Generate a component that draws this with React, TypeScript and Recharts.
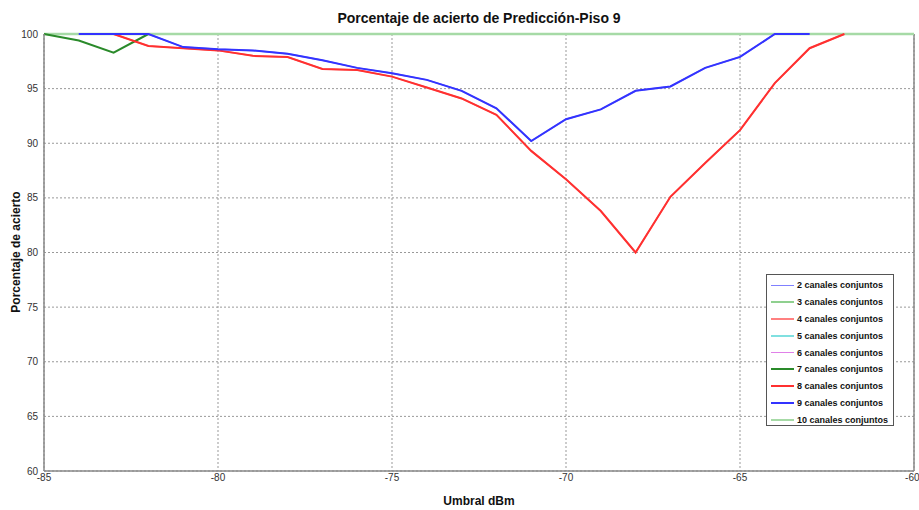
import {
  CartesianGrid,
  Line,
  LineChart,
  ReferenceLine,
  XAxis,
  YAxis,
} from "recharts";

const umbral = [
  -85, -84, -83, -82, -81, -80, -79, -78, -77, -76, -75, -74, -73, -72, -71,
  -70, -69, -68, -67, -66, -65, -64, -63, -62, -61, -60,
];

const xTicks = [-85, -80, -75, -70, -65, -60];
const yTicks = [60, 65, 70, 75, 80, 85, 90, 95, 100];

const canales2 = [
  null, 100, 100, 100, 98.8, 98.6, 98.5, 98.2, 97.6, 96.9, 96.4, 95.8, 94.8,
  93.2, 90.2, 92.2, 93.1, 94.8, 95.2, 96.9, 97.9, 100, 100, null, null, null,
];
const canales3 = umbral.map(() => 100);
const canales4 = [
  null, null, 100, 98.9, 98.7, 98.5, 98.0, 97.9, 96.8, 96.7, 96.1, 95.1, 94.1,
  92.6, 89.3, 86.7, 83.8, 80.0, 85.1, 88.2, 91.2, 95.5, 98.7, 100, null, null,
];
const canales5 = umbral.map(() => 100);
const canales6 = umbral.map(() => 100);
const canales7 = [
  100, 99.4, 98.3, 100, null, null, null, null, null, null, null, null, null,
  null, null, null, null, null, null, null, null, null, null, null, null, null,
];
const canales8 = [
  null, null, 100, 98.9, 98.7, 98.5, 98.0, 97.9, 96.8, 96.7, 96.1, 95.1, 94.1,
  92.6, 89.3, 86.7, 83.8, 80.0, 85.1, 88.2, 91.2, 95.5, 98.7, 100, null, null,
];
const canales9 = [
  null, 100, 100, 100, 98.8, 98.6, 98.5, 98.2, 97.6, 96.9, 96.4, 95.8, 94.8,
  93.2, 90.2, 92.2, 93.1, 94.8, 95.2, 96.9, 97.9, 100, 100, null, null, null,
];
const canales10 = umbral.map(() => 100);

const series = [
  { key: "c2", name: "2 canales conjuntos", values: canales2, color: "#8080ff", width: 1.5 },
  { key: "c3", name: "3 canales conjuntos", values: canales3, color: "#8fd08f", width: 1.5 },
  { key: "c4", name: "4 canales conjuntos", values: canales4, color: "#ff8080", width: 1.5 },
  { key: "c5", name: "5 canales conjuntos", values: canales5, color: "#80e0e0", width: 1.5 },
  { key: "c6", name: "6 canales conjuntos", values: canales6, color: "#e080e8", width: 1.5 },
  { key: "c7", name: "7 canales conjuntos", values: canales7, color: "#2a8a2a", width: 2 },
  { key: "c8", name: "8 canales conjuntos", values: canales8, color: "#ff3030", width: 2 },
  { key: "c9", name: "9 canales conjuntos", values: canales9, color: "#3333ff", width: 2 },
  { key: "c10", name: "10 canales conjuntos", values: canales10, color: "#a6daa6", width: 2.5 },
];

// flat lines at 100 go underneath so the coloured curves stay visible
const drawOrder = ["c3", "c5", "c6", "c10", "c2", "c4", "c7", "c8", "c9"];

const chartData = umbral.map((x, i) => {
  const row: Record<string, number | null> = { x };
  series.forEach((s) => {
    row[s.key] = s.values[i];
  });
  return row;
});

const font = "'Liberation Sans', Arial, sans-serif";

function LegendBox() {
  return (
    <div
      style={{
        position: "absolute",
        left: 766,
        top: 274,
        width: 128,
        height: 152,
        border: "1px solid #555",
        background: "#fff",
        fontFamily: font,
        fontSize: 9,
        fontWeight: 700,
        color: "#111",
        boxSizing: "border-box",
        paddingTop: 2,
      }}
    >
      {series.map((s) => (
        <div
          key={s.key}
          style={{ display: "flex", alignItems: "center", height: 16.8 }}
        >
          <div
            style={{
              marginLeft: 4,
              width: 23,
              height: s.width >= 2 ? 2 : 1.5,
              background: s.color,
              marginRight: 3,
            }}
          />
          <span>{s.name}</span>
        </div>
      ))}
    </div>
  );
}

export default function App() {
  const ordered = drawOrder.map((k) => series.find((s) => s.key === k)!);

  return (
    <div
      style={{
        position: "absolute",
        left: 0,
        top: 0,
        width: 919,
        height: 510,
        background: "#fff",
        overflow: "hidden",
      }}
    >
      <div
        style={{
          position: "absolute",
          top: 10,
          left: 0,
          width: 958,
          textAlign: "center",
          fontFamily: font,
          fontWeight: 700,
          fontSize: 14,
          color: "#111",
        }}
      >
        Porcentaje de acierto de Predicción-Piso 9
      </div>

      <LineChart
        width={919}
        height={510}
        data={chartData}
        margin={{ top: 34, right: 5, bottom: 19, left: 0 }}
      >
        <CartesianGrid
          stroke="#999"
          strokeDasharray="2 2"
          horizontalValues={yTicks}
          verticalValues={xTicks}
        />
        <XAxis
          dataKey="x"
          type="number"
          domain={[-85, -60]}
          ticks={xTicks}
          height={20}
          tickLine={false}
          tickSize={2}
          tickMargin={1}
          stroke="#888"
          strokeWidth={1.5}
          tick={{ fill: "#333", fontSize: 10, fontFamily: font }}
        />
        <YAxis
          type="number"
          domain={[60, 100]}
          ticks={yTicks}
          width={44}
          tickLine={false}
          tickSize={4}
          tickMargin={2}
          stroke="#888"
          strokeWidth={1.5}
          tick={{ fill: "#333", fontSize: 10, fontFamily: font }}
        />
        <ReferenceLine x={-60} stroke="#888" strokeWidth={1.5} />
        {ordered.map((s) => (
          <Line
            key={s.key}
            type="linear"
            dataKey={s.key}
            name={s.name}
            stroke={s.color}
            strokeWidth={s.width}
            dot={false}
            activeDot={false}
            isAnimationActive={false}
          />
        ))}
      </LineChart>

      <div
        style={{
          position: "absolute",
          top: 494,
          left: 0,
          width: 958,
          textAlign: "center",
          fontFamily: font,
          fontWeight: 700,
          fontSize: 12,
          color: "#111",
        }}
      >
        Umbral dBm
      </div>

      <div
        style={{
          position: "absolute",
          left: 16,
          top: 252,
          transform: "translate(-50%, -50%) rotate(-90deg)",
          whiteSpace: "nowrap",
          fontFamily: font,
          fontWeight: 700,
          fontSize: 12,
          color: "#111",
        }}
      >
        Porcentaje de acierto
      </div>

      <LegendBox />
    </div>
  );
}
